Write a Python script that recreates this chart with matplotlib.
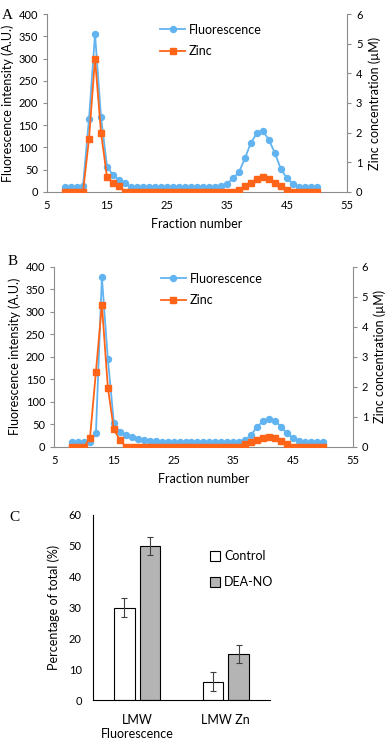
import matplotlib.pyplot as plt
import numpy as np

plt.rcParams["font.family"] = ["Lato", "DejaVu Sans"]

# fractions 8..50
fractions = list(range(8, 51))

# panel A
fluor_a = [10, 10, 10, 14, 165, 355, 168, 57, 38, 27, 20,
           10, 10, 10, 10, 10, 10, 10, 10, 10, 10, 10, 10, 10, 10, 10,
           13, 18, 31, 44, 76, 111, 132, 137, 117, 87, 51, 31, 18, 12, 10, 10, 10]
zinc_a = [0, 0, 0, 0, 1.8, 4.5, 2.0, 0.5, 0.3, 0.2, 0,
          0, 0, 0, 0, 0, 0, 0, 0, 0, 0, 0, 0, 0, 0, 0,
          0, 0, 0, 0.07, 0.2, 0.31, 0.44, 0.52, 0.44, 0.31, 0.2, 0.07, 0, 0, 0, 0, 0]

# panel B
fluor_b = [10, 10, 10, 10, 30, 377, 195, 54, 32, 27, 21, 18, 16, 14, 12, 10,
           10, 10, 10, 10, 10, 10, 10, 10, 10, 10, 10, 10, 10,
           15, 27, 45, 57, 62, 58, 44, 30, 19, 14, 11, 10, 10, 10]
zinc_b = [0, 0, 0, 0.28, 2.5, 4.74, 1.97, 0.58, 0.23, 0, 0, 0, 0, 0, 0, 0,
          0, 0, 0, 0, 0, 0, 0, 0, 0, 0, 0, 0, 0,
          0.08, 0.16, 0.24, 0.3, 0.34, 0.29, 0.2, 0.1, 0, 0, 0, 0, 0, 0]

# panel C
groups = ["LMW\nFluorescence", "LMW Zn"]
control = [30, 6]
control_err = [3, 3]
deano = [50, 15]
deano_err = [3, 3]

blue = "#62B4F0"
orange = "#FF6418"
gray = "#8C8C8C"


def style_axis(ax):
    ax.spines["top"].set_visible(False)
    for s in ["left", "bottom", "right"]:
        ax.spines[s].set_color(gray)
    ax.tick_params(colors="black", labelsize=8, width=0.8, length=3)
    ax.tick_params(axis="both", color=gray)


def chromatogram(fig, rect, fluor, zinc, letter, lx, leg_xy):
    ax = fig.add_axes(rect)
    ax2 = ax.twinx()
    ax.plot(fractions, fluor, "-o", color=blue, ms=4.3, lw=1.3, label="Fluorescence")
    ax2.plot(fractions, zinc, "-s", color=orange, ms=4.3, lw=1.3, label="Zinc")
    ax.set_xlim(5, 55)
    ax.set_ylim(0, 400)
    ax2.set_ylim(0, 6)
    ax.set_xticks(range(5, 56, 10))
    ax.set_yticks(range(0, 401, 50))
    ax2.set_yticks(range(0, 7))
    style_axis(ax)
    style_axis(ax2)
    ax.spines["right"].set_visible(False)
    ax2.spines["left"].set_visible(False)
    ax2.spines["bottom"].set_visible(False)
    ax.tick_params(axis="x", length=0, pad=6)
    ax.set_xlabel("Fraction number", fontsize=9, labelpad=5)
    ax.set_ylabel("Fluorescence intensity (A.U.)", fontsize=9, labelpad=3)
    ax2.set_ylabel("Zinc concentration (\u00b5M)", fontsize=9, labelpad=4)
    h1, l1 = ax.get_legend_handles_labels()
    h2, l2 = ax2.get_legend_handles_labels()
    ax2.legend(h1 + h2, l1 + l2, loc="upper left", bbox_to_anchor=leg_xy,
               frameon=False, fontsize=9, handlelength=2.0, handletextpad=0.3,
               labelspacing=0.75)
    fig.text(lx[0], lx[1], letter, fontsize=11, family="Liberation Serif")
    return ax


fig = plt.figure(figsize=(3.92, 7.41), dpi=100)

chromatogram(fig, [0.12, 0.741, 0.765, 0.24], fluor_a, zinc_a, "A",
             (0.005, 0.975), (0.34, 1.01))
chromatogram(fig, [0.138, 0.397, 0.762, 0.243], fluor_b, zinc_b, "B",
             (0.02, 0.642), (0.32, 1.03))

axc = fig.add_axes([0.237, 0.055, 0.452, 0.25])
x = np.arange(len(groups))
w = 0.23
axc.bar(x - 0.145, control, w, yerr=control_err, color="white", edgecolor="black",
        lw=0.8, capsize=2.5, error_kw=dict(lw=0.8, ecolor="#404040", capthick=0.8),
        label="Control")
axc.bar(x + 0.145, deano, w, yerr=deano_err, color="#B4B4B4", edgecolor="black",
        lw=0.8, capsize=2.5, error_kw=dict(lw=0.8, ecolor="#404040", capthick=0.8),
        label="DEA-NO")
axc.set_xlim(-0.5, 1.5)
axc.set_ylim(0, 60)
axc.set_yticks(range(0, 61, 10))
axc.set_xticks(x)
axc.set_xticklabels(groups, fontsize=9)
axc.spines["top"].set_visible(False)
axc.spines["right"].set_visible(False)
axc.spines["left"].set_color("black")
axc.spines["bottom"].set_color("black")
axc.tick_params(axis="y", labelsize=8, length=0, pad=8)
axc.tick_params(axis="x", length=0, pad=10)
axc.set_ylabel("Percentage of total (%)", fontsize=9, labelpad=6)
axc.legend(loc="upper left", bbox_to_anchor=(0.6, 0.87), frameon=False, fontsize=9,
           handlelength=0.8, handleheight=0.8, handletextpad=0.3, labelspacing=1.1)
fig.text(0.025, 0.297, "C", fontsize=11, family="Liberation Serif")

fig.savefig("out.png", dpi=100)
